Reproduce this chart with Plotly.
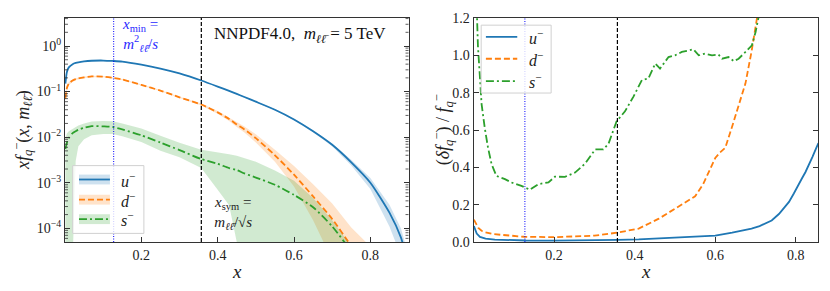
import plotly.graph_objects as go

# ---------------- physics parameters ----------------
m_ll = 5.0      # TeV
sqrt_s = 14.0   # TeV
x_sym = m_ll / sqrt_s
x_min = x_sym ** 2

# ---------------- left panel: x f_q^-(x, m_ll) ----------------
x_left = [0.001, 0.005, 0.01, 0.02, 0.028, 0.035, 0.05, 0.07, 0.1, 0.125, 0.15, 0.2, 0.25, 0.3,
          0.357, 0.4, 0.43, 0.45, 0.47, 0.5, 0.55, 0.6, 0.65, 0.7, 0.75, 0.8, 0.85, 0.88, 0.9]

u_cv = [0.15, 0.27, 0.34, 0.40, 0.425, 0.44, 0.46, 0.475, 0.48, 0.47, 0.455, 0.39, 0.32, 0.25,
        0.175, 0.129, 0.1035, 0.089, 0.076, 0.06, 0.04, 0.0245, 0.0135, 0.0068, 0.0028, 0.001, 2.2e-4, 6.3e-5, 1.6e-5]
u_lo = [0.138, 0.259, 0.333, 0.394, 0.419, 0.435, 0.455, 0.470, 0.475, 0.465, 0.450, 0.386, 0.317, 0.2475,
        0.173, 0.127, 0.1017, 0.087, 0.0743, 0.0585, 0.0388, 0.0236, 0.0128, 0.0063, 0.0024, 0.00073, 1.1e-4, 2.5e-5, 5.6e-6]
u_hi = [0.162, 0.281, 0.347, 0.406, 0.431, 0.445, 0.465, 0.480, 0.485, 0.475, 0.460, 0.394, 0.323, 0.2525,
        0.177, 0.131, 0.1053, 0.091, 0.0777, 0.0615, 0.0412, 0.0254, 0.0142, 0.0073, 0.0032, 0.00127, 3.3e-4, 1.0e-4, 2.6e-5]

d_cv = [0.07, 0.12, 0.15, 0.175, 0.187, 0.195, 0.205, 0.215, 0.213, 0.20, 0.185, 0.14, 0.105, 0.075,
        0.052, 0.035, 0.025, 0.019, 0.0148, 0.0095, 0.004, 0.0015, 5.0e-4, 1.6e-4, 4e-5, 7e-6, 1e-6, 2e-7, 5e-8]
d_lo = [0.0616, 0.107, 0.138, 0.1645, 0.177, 0.186, 0.196, 0.207, 0.206, 0.194, 0.180, 0.136, 0.102, 0.0725,
        0.0494, 0.0325, 0.0225, 0.0167, 0.0126, 0.0076, 0.00288, 0.000825, 1.5e-4, 2e-5, 1e-7, 1e-8, 1e-8, 1e-8, 1e-8]
d_hi = [0.0784, 0.133, 0.162, 0.1855, 0.197, 0.204, 0.214, 0.223, 0.220, 0.206, 0.190, 0.144, 0.108, 0.0775,
        0.0546, 0.0375, 0.0275, 0.0215, 0.0172, 0.0116, 0.00532, 0.00233, 9.25e-4, 3.5e-4, 1.04e-4, 4e-5, 8e-6, 1e-6, 3e-7]

s_cv = [5.5e-3, 7.5e-3, 9.5e-3, 0.0123, 0.0135, 0.0145, 0.016, 0.0175, 0.0172, 0.0167, 0.0148, 0.011, 0.0076, 0.0052,
        0.0033, 0.0026, 0.0021, 0.0019, 0.0016, 0.0013, 9e-4, 5.4e-4, 2.9e-4, 1.1e-4, 3e-5, 3e-6, 1e-7, 1e-8, 1e-9]
s_lo = [1e-8, 1e-8, 1e-8, 2e-5, 3e-3, 6.3e-3, 9.0e-3, 0.011, 0.0118, 0.0117, 0.0105, 0.0078, 0.005, 0.0036,
        0.0021, 7e-4, 3.2e-4, 5e-5, 1e-8, 1e-8, 1e-8, 1e-8, 1e-8, 1e-8, 1e-8, 1e-8, 1e-8, 1e-8, 1e-8]
s_hi = [9.5e-3, 0.012, 0.0135, 0.0152, 0.0168, 0.018, 0.020, 0.022, 0.0226, 0.0222, 0.020, 0.0155, 0.0107, 0.0075,
        0.0053, 0.0047, 0.0042, 0.0039, 0.0035, 0.0029, 0.00185, 0.0011, 4.6e-4, 1.5e-4, 4e-5, 5e-6, 1e-7, 1e-8, 1e-9]

# ---------------- right panel: relative uncertainty ----------------
x_u_rel = [0.001, 0.008, 0.016, 0.03, 0.053, 0.1, 0.13, 0.2, 0.3, 0.357, 0.41, 0.46, 0.5, 0.55, 0.6, 0.642,
           0.67, 0.69, 0.71, 0.725, 0.74, 0.758, 0.77, 0.783, 0.795, 0.803, 0.815, 0.824, 0.833, 0.841, 0.85, 0.856]
u_rel = [0.085, 0.045, 0.027, 0.018, 0.013, 0.009, 0.008, 0.007, 0.008, 0.011, 0.014, 0.019, 0.024, 0.029, 0.034, 0.05,
         0.062, 0.072, 0.085, 0.1, 0.115, 0.15, 0.18, 0.215, 0.26, 0.295, 0.34, 0.375, 0.415, 0.455, 0.5, 0.53]

x_d_rel = [0.001, 0.005, 0.012, 0.02, 0.028, 0.05, 0.086, 0.125, 0.2, 0.25, 0.3, 0.357, 0.41, 0.46, 0.51, 0.55,
           0.57, 0.585, 0.6, 0.612, 0.625, 0.645, 0.66, 0.675, 0.69, 0.705, 0.715]
d_rel = [0.12, 0.105, 0.075, 0.06, 0.053, 0.042, 0.035, 0.028, 0.026, 0.028, 0.034, 0.05, 0.072, 0.125, 0.19, 0.245,
         0.31, 0.38, 0.45, 0.48, 0.505, 0.64, 0.74, 0.85, 1.02, 1.2, 1.35]

x_s_rel = [0.003, 0.007, 0.011, 0.016, 0.02, 0.028, 0.036, 0.045, 0.057, 0.078, 0.094, 0.119, 0.14, 0.161, 0.186,
           0.202, 0.227, 0.252, 0.277, 0.302, 0.322, 0.335, 0.355, 0.376, 0.397, 0.418, 0.434, 0.451, 0.463, 0.484,
           0.5, 0.517, 0.534, 0.546, 0.559, 0.575, 0.592, 0.608, 0.617, 0.633, 0.646, 0.658, 0.675, 0.691, 0.70, 0.708]
s_rel = [1.6, 1.25, 1.05, 0.88, 0.74, 0.61, 0.505, 0.416, 0.354, 0.337, 0.319, 0.301, 0.28, 0.31, 0.319,
         0.35, 0.349, 0.372, 0.42, 0.496, 0.496, 0.526, 0.646, 0.70, 0.779, 0.868, 0.876, 0.956, 0.929, 0.991,
         1.0, 1.018, 1.027, 1.032, 1.0, 1.009, 1.0, 1.004, 0.982, 0.991, 0.969, 0.982, 1.018, 1.054, 1.124, 1.21]

# ---------------- tick labels ----------------
log_tick_vals = [1e-4, 1e-3, 1e-2, 1e-1, 1.0]
log_tick_text = ["10<sup>−4</sup>", "10<sup>−3</sup>", "10<sup>−2</sup>", "10<sup>−1</sup>", "10<sup>0</sup>"]
x_tick_vals = [0.2, 0.4, 0.6, 0.8]
rel_tick_vals = [0.0, 0.2, 0.4, 0.6, 0.8, 1.0, 1.2]

labels = ["<i>u</i><sup>−</sup>", "<i>d</i><sup>−</sup>", "<i>s</i><sup>−</sup>"]

# ---------------- styling ----------------
COLORS = ["#1f77b4", "#ff7f0e", "#2ca02c"]
BANDS = ["rgba(31,119,180,0.22)", "rgba(255,127,14,0.22)", "rgba(44,160,44,0.22)"]
DASHES = ["solid", "6px,3px", "8px,3px,2px,3px"]
FONT = "Liberation Serif"
LW = 1.8
Y_LOG_MIN, Y_LOG_MAX = 5e-5, 4.12

fig = go.Figure()

left_series = [(u_cv, u_lo, u_hi), (d_cv, d_lo, d_hi), (s_cv, s_lo, s_hi)]
for (cv, lo, hi), col, band, dash in zip(left_series, COLORS, BANDS, DASHES):
    fig.add_trace(go.Scatter(x=x_left, y=lo, mode="lines", line=dict(width=0, color=col),
                             showlegend=False, hoverinfo="skip", xaxis="x", yaxis="y"))
    fig.add_trace(go.Scatter(x=x_left, y=hi, mode="lines", line=dict(width=0, color=col),
                             fill="tonexty", fillcolor=band, showlegend=False, hoverinfo="skip",
                             xaxis="x", yaxis="y"))
    fig.add_trace(go.Scatter(x=x_left, y=cv, mode="lines",
                             line=dict(width=LW, color=col, dash=dash, shape="spline", smoothing=0.6),
                             showlegend=False, xaxis="x", yaxis="y"))

right_series = [(x_u_rel, u_rel), (x_d_rel, d_rel), (x_s_rel, s_rel)]
for (xx, yy), col, dash in zip(right_series, COLORS, DASHES):
    fig.add_trace(go.Scatter(x=xx, y=yy, mode="lines", line=dict(width=LW, color=col, dash=dash),
                             showlegend=False, xaxis="x2", yaxis="y2"))

axis_common = dict(showgrid=False, zeroline=False, showline=True, linecolor="#333", linewidth=1,
                   ticks="inside", ticklen=5, tickwidth=1, tickcolor="#333",
                   tickfont=dict(family=FONT, size=14, color="#222"))

import math
fig.update_layout(
    width=830, height=291,
    margin=dict(l=65, r=11, t=16, b=49),
    plot_bgcolor="white", paper_bgcolor="white",
    showlegend=False,
    xaxis=dict(domain=[0, 0.4562], range=[0.0, 0.9], tickvals=x_tick_vals, tickformat=".1f",
               mirror=True, anchor="y", **axis_common),
    yaxis=dict(type="log", range=[math.log10(Y_LOG_MIN), math.log10(Y_LOG_MAX)],
               tickvals=log_tick_vals, ticktext=log_tick_text,
               mirror="allticks", anchor="x", **axis_common),
    xaxis2=dict(domain=[0.5425, 1.0], range=[0.0, 0.855], tickvals=x_tick_vals, tickformat=".1f",
                mirror=True, anchor="y2", **axis_common),
    yaxis2=dict(range=[0.0, 1.2], tickvals=rel_tick_vals, tickformat=".1f", mirror="allticks",
                anchor="x2", **axis_common),
)

shapes = []
# minor ticks of the log axis (inside, on both sides)
minor_vals = [k * 10.0 ** e for e in range(-5, 1) for k in range(2, 10)]
minor_len = 3.0 / 344.0
for v in minor_vals:
    if Y_LOG_MIN < v < Y_LOG_MAX:
        for a, b in [(0.0, minor_len), (1.0 - minor_len, 1.0)]:
            shapes.append(dict(type="line", xref="x domain", yref="y", x0=a, x1=b, y0=v, y1=v,
                               line=dict(color="#333", width=0.8), layer="above"))

# reference vertical lines
for xr, yr in [("x", "y domain"), ("x2", "y2 domain")]:
    shapes.append(dict(type="line", xref=xr, yref=yr, x0=x_min, x1=x_min, y0=0, y1=1,
                       line=dict(color="blue", width=1, dash="1px,1.5px"), layer="above"))
    shapes.append(dict(type="line", xref=xr, yref=yr, x0=x_sym, x1=x_sym, y0=0, y1=1,
                       line=dict(color="black", width=1.2, dash="4px,2px"), layer="above"))

annotations = []

# ---- left legend (with bands) ----
lx0, lx1, ly0, ly1 = 0.0224, 0.2297, 0.0385, 0.341
shapes.append(dict(type="rect", xref="x domain", yref="y domain", x0=lx0, x1=lx1, y0=ly0, y1=ly1,
                   fillcolor="rgba(255,255,255,0.8)", line=dict(color="#d0d0d0", width=1), layer="above"))
for yy, col, band, dash, lab in zip([0.279, 0.189, 0.102], COLORS, BANDS, DASHES, labels):
    shapes.append(dict(type="rect", xref="x domain", yref="y domain", x0=0.0407, x1=0.1308,
                       y0=yy - 0.022, y1=yy + 0.022, fillcolor=band, line=dict(width=0), layer="above"))
    shapes.append(dict(type="line", xref="x domain", yref="y domain", x0=0.0407, x1=0.1308,
                       y0=yy, y1=yy, line=dict(color=col, width=LW, dash=dash), layer="above"))
    annotations.append(dict(xref="x domain", yref="y domain", x=0.158, y=yy, text=lab, showarrow=False,
                            xanchor="left", yanchor="middle", font=dict(family=FONT, size=16, color="#222")))

# ---- right legend (lines only) ----
shapes.append(dict(type="rect", xref="x2 domain", yref="y2 domain", x0=0.0223, x1=0.2254, y0=0.665, y1=0.968,
                   fillcolor="rgba(255,255,255,0.8)", line=dict(color="#d0d0d0", width=1), layer="above"))
for yy, col, dash, lab in zip([0.916, 0.818, 0.718], COLORS, DASHES, labels):
    shapes.append(dict(type="line", xref="x2 domain", yref="y2 domain", x0=0.036, x1=0.127,
                       y0=yy, y1=yy, line=dict(color=col, width=LW, dash=dash), layer="above"))
    annotations.append(dict(xref="x2 domain", yref="y2 domain", x=0.155, y=yy, text=lab, showarrow=False,
                            xanchor="left", yanchor="middle", font=dict(family=FONT, size=16, color="#222")))

# ---- text labels ----
annotations += [
    dict(xref="x domain", yref="y domain", x=0.94, y=0.925, xanchor="right", yanchor="middle",
         text="NNPDF4.0,  <i>m</i><sub><i>ℓℓ̄</i></sub> = 5 TeV", showarrow=False,
         font=dict(family=FONT, size=17, color="#111")),
    dict(xref="x domain", yref="y domain", x=0.218, y=0.924, xanchor="center", yanchor="middle",
         text="<i>x</i><sub>min</sub> =<br><i>m</i><sup>2</sup><sub><i>ℓℓ̄</i></sub>/<i>s</i>", showarrow=False,
         font=dict(family=FONT, size=15, color="#2a2aff")),
    dict(xref="x domain", yref="y domain", x=0.488, y=0.128, xanchor="center", yanchor="middle",
         text="<i>x</i><sub>sym</sub> =<br><i>m</i><sub><i>ℓℓ̄</i></sub>/√<i>s</i>", showarrow=False,
         font=dict(family=FONT, size=15, color="#222")),
    # axis titles
    dict(xref="paper", yref="paper", x=-0.057, y=0.5, xanchor="center", yanchor="middle", textangle=-90,
         text="<i>xf</i><sub><i>q</i></sub><sup>−</sup>(<i>x</i>, <i>m</i><sub><i>ℓℓ̄</i></sub>)", showarrow=False,
         font=dict(family=FONT, size=18, color="#222")),
    dict(xref="paper", yref="paper", x=0.501, y=0.5, xanchor="center", yanchor="middle", textangle=-90,
         text="(<i>δf</i><sub><i>q</i></sub><sup>−</sup>) / <i>f</i><sub><i>q</i></sub><sup>−</sup>", showarrow=False,
         font=dict(family=FONT, size=18, color="#222")),
    dict(xref="x domain", yref="paper", x=0.5, y=-0.13, xanchor="center", yanchor="middle",
         text="<i>x</i>", showarrow=False, font=dict(family=FONT, size=19, color="#222")),
    dict(xref="x2 domain", yref="paper", x=0.5, y=-0.13, xanchor="center", yanchor="middle",
         text="<i>x</i>", showarrow=False, font=dict(family=FONT, size=19, color="#222")),
]

fig.update_layout(shapes=shapes, annotations=annotations)
fig.write_html("out.html", config={"displayModeBar": False},
               post_script="document.body.style.margin='0px';document.body.style.overflow='hidden';")
